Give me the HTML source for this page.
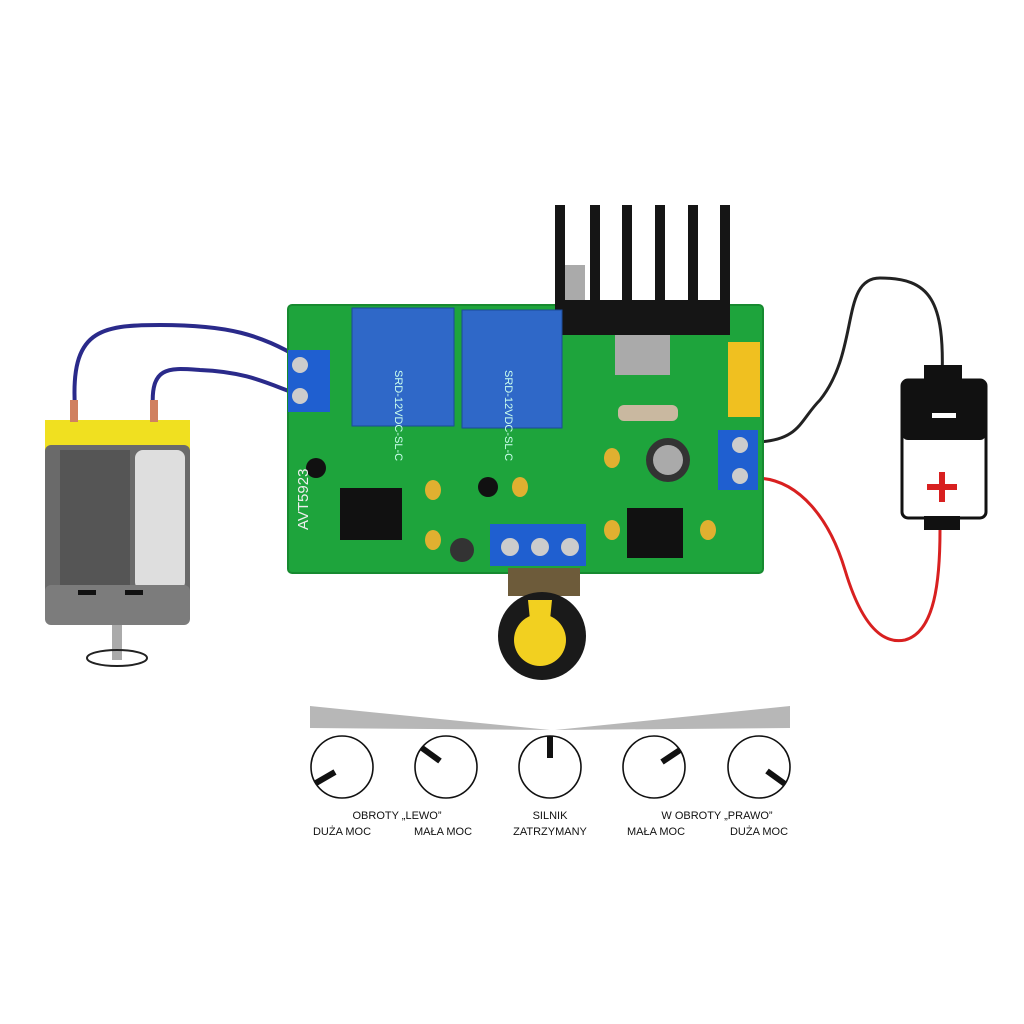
<!DOCTYPE html>
<html><head><style>
html,body{margin:0;padding:0;background:#fff;}
svg{display:block}
text{font-family:"Liberation Sans",sans-serif;}
</style></head><body>
<svg width="1024" height="1024" viewBox="0 0 1024 1024" xmlns="http://www.w3.org/2000/svg">
<rect width="1024" height="1024" fill="#fff"/>
<path d="M75 408 C70 330 100 325 160 325 C230 325 260 335 300 358" fill="none" stroke="#2a2a8a" stroke-width="4"/>
<path d="M153 408 C150 365 170 368 200 370 C250 372 270 385 300 395" fill="none" stroke="#2a2a8a" stroke-width="4"/>
<path d="M758 442 C800 440 800 420 820 400 C860 350 840 278 880 278 C930 278 945 300 942 380" fill="none" stroke="#222" stroke-width="3"/>
<path d="M758 478 C800 480 830 520 845 570 C860 620 880 645 905 640 C935 632 940 580 940 530" fill="none" stroke="#d82020" stroke-width="3"/>
<rect x="288" y="305" width="475" height="268" rx="4" fill="#1ea43c"/>
<rect x="288" y="305" width="475" height="268" rx="4" fill="none" stroke="#178a30" stroke-width="2"/>
<g fill="#151515">
<rect x="555" y="205" width="10" height="125"/><rect x="590" y="205" width="10" height="125"/>
<rect x="622" y="205" width="10" height="125"/><rect x="655" y="205" width="10" height="125"/>
<rect x="688" y="205" width="10" height="125"/><rect x="720" y="205" width="10" height="125"/>
<rect x="558" y="300" width="172" height="35"/>
</g>
<rect x="565" y="265" width="20" height="35" fill="#aaa"/>
<rect x="615" y="335" width="55" height="40" fill="#aaa"/>
<rect x="352" y="308" width="102" height="118" fill="#2f68c8" stroke="#1b4a99"/>
<rect x="462" y="310" width="100" height="118" fill="#2f68c8" stroke="#1b4a99"/>
<text x="395" y="370" font-size="11" fill="#cfe" transform="rotate(90 395 370)">SRD-12VDC-SL-C</text>
<text x="505" y="370" font-size="11" fill="#cfe" transform="rotate(90 505 370)">SRD-12VDC-SL-C</text>
<rect x="288" y="350" width="42" height="62" fill="#1f5fd0"/>
<circle cx="300" cy="365" r="8" fill="#ccc"/><circle cx="300" cy="396" r="8" fill="#ccc"/>
<rect x="718" y="430" width="40" height="60" fill="#1f5fd0"/>
<circle cx="740" cy="445" r="8" fill="#ccc"/><circle cx="740" cy="476" r="8" fill="#ccc"/>
<rect x="490" y="524" width="96" height="42" fill="#1f5fd0"/>
<circle cx="510" cy="547" r="9" fill="#ccc"/><circle cx="540" cy="547" r="9" fill="#ccc"/><circle cx="570" cy="547" r="9" fill="#ccc"/>
<rect x="340" y="488" width="62" height="52" fill="#111"/>
<rect x="627" y="508" width="56" height="50" fill="#111"/>
<rect x="728" y="342" width="32" height="75" fill="#f0c020"/>
<circle cx="668" cy="460" r="22" fill="#333"/><circle cx="668" cy="460" r="15" fill="#aaa"/>
<circle cx="462" cy="550" r="12" fill="#333"/>
<g fill="#e0b030">
<ellipse cx="433" cy="490" rx="8" ry="10"/><ellipse cx="520" cy="487" rx="8" ry="10"/>
<ellipse cx="433" cy="540" rx="8" ry="10"/><ellipse cx="612" cy="458" rx="8" ry="10"/>
<ellipse cx="612" cy="530" rx="8" ry="10"/><ellipse cx="708" cy="530" rx="8" ry="10"/>
</g>
<rect x="618" y="405" width="60" height="16" rx="6" fill="#c9b8a0"/>
<circle cx="316" cy="468" r="10" fill="#111"/><circle cx="488" cy="487" r="10" fill="#111"/>
<text x="308" y="530" font-size="15" fill="#eee" transform="rotate(-90 308 530)">AVT5923</text>
<rect x="508" y="568" width="72" height="28" fill="#6d5b3a"/>
<circle cx="542" cy="636" r="44" fill="#1a1a1a"/>
<circle cx="540" cy="640" r="26" fill="#f2d020"/>
<path d="M528 600 L552 600 L548 640 L532 640Z" fill="#f2d020"/>
<rect x="45" y="420" width="145" height="30" fill="#f0e020"/>
<rect x="45" y="445" width="145" height="165" rx="6" fill="#6a6a6a"/>
<rect x="135" y="450" width="50" height="140" rx="8" fill="#dedede"/>
<rect x="60" y="450" width="70" height="140" fill="#555"/>
<rect x="45" y="585" width="145" height="40" rx="6" fill="#7c7c7c"/>
<rect x="78" y="590" width="18" height="5" fill="#111"/><rect x="125" y="590" width="18" height="5" fill="#111"/>
<rect x="70" y="400" width="8" height="22" fill="#d08060"/><rect x="150" y="400" width="8" height="22" fill="#d08060"/>
<rect x="112" y="625" width="10" height="35" fill="#aaa"/>
<ellipse cx="117" cy="658" rx="30" ry="8" fill="none" stroke="#222" stroke-width="2"/>
<rect x="924" y="365" width="38" height="20" fill="#111"/>
<rect x="902" y="380" width="84" height="138" rx="6" fill="#fff" stroke="#111" stroke-width="3"/>
<rect x="902" y="380" width="84" height="60" rx="6" fill="#111"/>
<rect x="932" y="413" width="24" height="5" fill="#fff"/>
<rect x="924" y="516" width="36" height="14" fill="#111"/>
<rect x="927" y="484" width="30" height="6" fill="#d82020"/><rect x="939" y="472" width="6" height="30" fill="#d82020"/>
<polygon points="310,706 550,730 310,728" fill="#b7b7b7"/>
<polygon points="555,730 790,706 790,728" fill="#b7b7b7"/>
<g fill="none" stroke="#111" stroke-width="1.6">
<circle cx="342" cy="767" r="31"/><circle cx="446" cy="767" r="31"/><circle cx="550" cy="767" r="31"/><circle cx="654" cy="767" r="31"/><circle cx="759" cy="767" r="31"/>
</g>
<g stroke="#111" stroke-width="6">
<line x1="316" y1="783" x2="335" y2="772"/>
<line x1="422" y1="748" x2="440" y2="761"/>
<line x1="550" y1="736" x2="550" y2="758"/>
<line x1="680" y1="750" x2="662" y2="762"/>
<line x1="785" y1="784" x2="767" y2="771"/>
</g>
<g font-size="11" fill="#111" text-anchor="middle">
<text x="397" y="819">OBROTY „LEWO”</text>
<text x="550" y="819">SILNIK</text>
<text x="717" y="819">W OBROTY „PRAWO”</text>
<text x="342" y="835">DUŻA MOC</text>
<text x="443" y="835">MAŁA MOC</text>
<text x="550" y="835">ZATRZYMANY</text>
<text x="656" y="835">MAŁA MOC</text>
<text x="759" y="835">DUŻA MOC</text>
</g>
</svg>
</body></html>
